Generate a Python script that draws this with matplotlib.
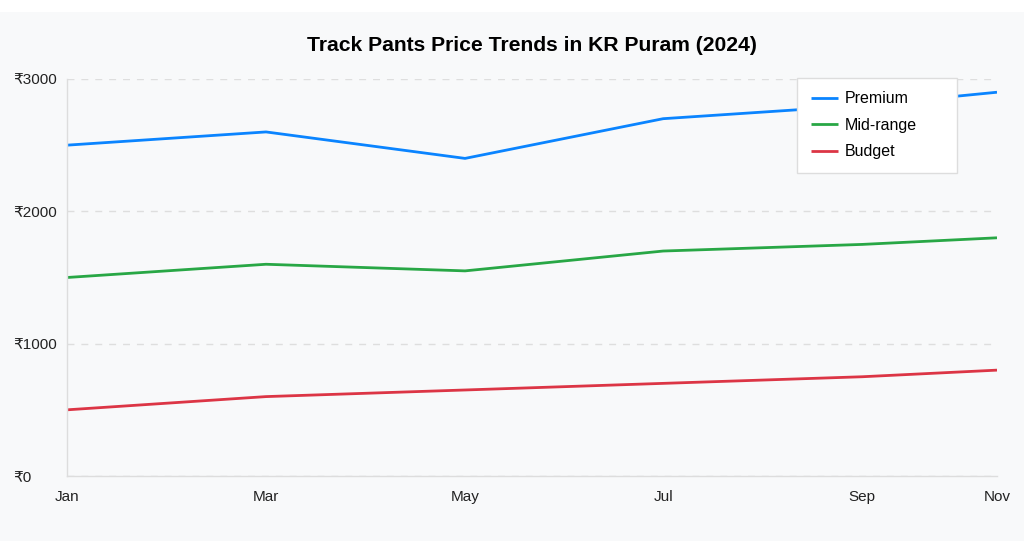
import numpy as np
import matplotlib
matplotlib.use('Agg')
import matplotlib.pyplot as plt
from matplotlib.patches import Rectangle

# Data
months = ['Jan', 'Mar', 'May', 'Jul', 'Sep', 'Nov']
premium = [2500, 2600, 2400, 2700, 2800, 2900]
mid_range = [1500, 1600, 1550, 1700, 1750, 1800]
budget = [500, 600, 650, 700, 750, 800]
y_ticks = [0, 1000, 2000, 3000]

plt.rcParams['font.family'] = ['Liberation Sans', 'DejaVu Sans']

fig = plt.figure(figsize=(10.24, 5.48), dpi=100, facecolor='white')
# light panel behind the chart
fig.patches.append(Rectangle((0, 7 / 548), 1, 529 / 548, transform=fig.transFigure,
                             facecolor='#f8f9fa', edgecolor='none', zorder=-10))

ax = fig.add_axes([67 / 1024, 72 / 548, 930 / 1024, 397 / 548])
ax.set_facecolor('none')

x = np.arange(len(months))
# the source axis spaces the last interval tighter than the others
frac = [0, 0.214, 0.428, 0.641, 0.855, 1.0]
fwd = lambda v: np.interp(v, x, frac)
inv = lambda v: np.interp(v, frac, x)
ax.set_xscale('function', functions=(fwd, inv))

ax.plot(x, premium, color='#0a84ff', lw=2, label='Premium', solid_capstyle='butt')
ax.plot(x, mid_range, color='#28a745', lw=2, label='Mid-range', solid_capstyle='butt')
ax.plot(x, budget, color='#dc3545', lw=2, label='Budget', solid_capstyle='butt')

ax.set_xlim(0, len(months) - 1)
ax.set_ylim(0, 3000)
ax.set_xticks(x)
ax.set_xticklabels(months)
ax.set_yticks(y_ticks)
ax.set_yticklabels([f'₹{v}' for v in y_ticks])
for lbl in ax.get_yticklabels():
    lbl.set_horizontalalignment('left')

ax.tick_params(axis='y', length=0, pad=38.5, labelsize=11, colors='#222222')
ax.tick_params(axis='x', length=0, pad=10, labelsize=11, colors='#222222')

ax.grid(axis='y', color='#dedede', linestyle=(0, (5, 5)), lw=1)
ax.set_axisbelow(True)
for s in ['top', 'right']:
    ax.spines[s].set_visible(False)
for s in ['left', 'bottom']:
    ax.spines[s].set_color('#dddddd')
    ax.spines[s].set_linewidth(1)

ax.set_title('Track Pants Price Trends in KR Puram (2024)', fontsize=15.2,
             fontweight='bold', pad=20)

leg = ax.legend(loc='upper left', bbox_to_anchor=(0.785, 1.003, 0.172, 0), mode='expand',
                fontsize=11.5, frameon=True, fancybox=False, edgecolor='#dddddd',
                facecolor='white', framealpha=1, borderpad=0.85, labelspacing=0.72,
                handlelength=1.7, handletextpad=0.45, borderaxespad=0)
leg.get_frame().set_linewidth(1)

plt.savefig('out.png', dpi=100, facecolor='white')
